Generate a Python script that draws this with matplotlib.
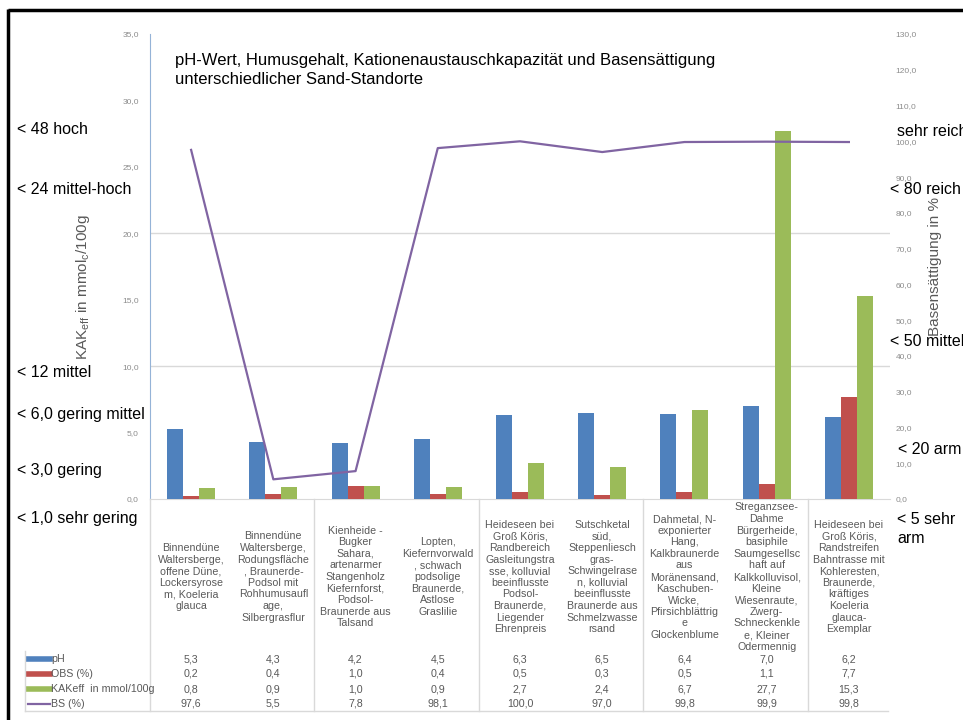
import numpy as np
import matplotlib
matplotlib.use("Agg")
import matplotlib.pyplot as plt
from matplotlib.transforms import blended_transform_factory
from matplotlib.lines import Line2D

plt.rcParams['font.family'] = ['Liberation Sans', 'DejaVu Sans']

categories = [
    "Binnendüne\nWaltersberge,\noffene Düne,\nLockersyrose\nm, Koeleria\nglauca",
    "Binnendüne\nWaltersberge,\nRodungsfläche\n, Braunerde-\nPodsol mit\nRohhumusaufl\nage,\nSilbergrasflur",
    "Kienheide -\nBugker\nSahara,\nartenarmer\nStangenholz\nKiefernforst,\nPodsol-\nBraunerde aus\nTalsand",
    "Lopten,\nKiefernvorwald\n, schwach\npodsolige\nBraunerde,\nAstlose\nGraslilie",
    "Heideseen bei\nGroß Köris,\nRandbereich\nGasleitungstra\nsse, kolluvial\nbeeinflusste\nPodsol-\nBraunerde,\nLiegender\nEhrenpreis",
    "Sutschketal\nsüd,\nSteppenliesch\ngras-\nSchwingelrase\nn, kolluvial\nbeeinflusste\nBraunerde aus\nSchmelzwasse\nrsand",
    "Dahmetal, N-\nexponierter\nHang,\nKalkbraunerde\naus\nMoränensand,\nKaschuben-\nWicke,\nPfirsichblättrig\ne\nGlockenblume",
    "Streganzsee-\nDahme\nBürgerheide,\nbasiphile\nSaumgesellsc\nhaft auf\nKalkkolluvisol,\nKleine\nWiesenraute,\nZwerg-\nSchneckenkle\ne, Kleiner\nOdermennig",
    "Heideseen bei\nGroß Köris,\nRandstreifen\nBahntrasse mit\nKohleresten,\nBraunerde,\nkräftiges\nKoeleria\nglauca-\nExemplar",
]
ph = [5.3, 4.3, 4.2, 4.5, 6.3, 6.5, 6.4, 7.0, 6.2]
obs = [0.2, 0.4, 1.0, 0.4, 0.5, 0.3, 0.5, 1.1, 7.7]
kak = [0.8, 0.9, 1.0, 0.9, 2.7, 2.4, 6.7, 27.7, 15.3]
bs = [97.6, 5.5, 7.8, 98.1, 100.0, 97.0, 99.8, 99.9, 99.8]
series_names = ["pH", "OBS (%)", "KAKeff  in mmol/100g", "BS (%)"]
left_ticks = [0, 5, 10, 15, 20, 25, 30, 35]
right_ticks = [0, 10, 20, 30, 40, 50, 60, 70, 80, 90, 100, 110, 120, 130]
left_notes = ["< 48 hoch", "< 24 mittel-hoch", "< 12 mittel", "< 6,0 gering mittel", "< 3,0 gering", "< 1,0 sehr gering"]
right_notes = ["sehr reich", "< 80 reich", "< 50 mittel", "< 20 arm", "< 5 sehr\narm"]
title = "pH-Wert, Humusgehalt, Kationenaustauschkapazität und Basensättigung\nunterschiedlicher Sand-Standorte"

C_BLUE, C_RED, C_GREEN, C_PURPLE = "#4F81BD", "#C0504D", "#9BBB59", "#8064A2"
GREY_TXT = "#595959"
GRID = "#D9D9D9"

W, H = 963, 720
fig = plt.figure(figsize=(W / 100, H / 100), dpi=100)

def fx(px):
    return px / W

def fy(py):
    return 1 - py / H

ax_l, ax_r, ax_b, ax_t = 150, 890, 499, 34
ax = fig.add_axes([fx(ax_l), fy(ax_b), fx(ax_r - ax_l), (ax_b - ax_t) / H])
ax2 = ax.twinx()

x = np.arange(len(ph))
bw = 0.195
ax.bar(x - bw, ph, bw, color=C_BLUE, zorder=3)
ax.bar(x, obs, bw, color=C_RED, zorder=3)
ax.bar(x + bw, kak, bw, color=C_GREEN, zorder=3)
ax.set_xlim(-0.5, len(ph) - 0.5)
ax.set_ylim(0, 35)
for g in (10, 20):
    ax.axhline(g, color=GRID, lw=1, zorder=1)

def fmt(v):
    return f"{v:.1f}".replace(".", ",")

ax.set_yticks(left_ticks)
ax.set_yticklabels([fmt(v) for v in left_ticks])
ax.tick_params(axis='y', length=0, pad=8, labelsize=6, labelcolor="#8C8C8C")
ax.set_xticks([])
for s in ("top", "right"):
    ax.spines[s].set_visible(False)
ax.spines["left"].set_color("#95B3D7")
ax.spines["bottom"].set_color(GRID)

ax2.plot(x, bs, color=C_PURPLE, lw=1.6, zorder=4)
ax2.set_ylim(0, 130)
ax2.set_yticks(right_ticks)
ax2.set_yticklabels([fmt(v) for v in right_ticks])
ax2.set_yticks([10, 40, 60, 70, 110], minor=True)
ax2.tick_params(axis='y', which='major', length=0, pad=4, labelsize=6, labelcolor="#8C8C8C")
ax2.tick_params(axis='y', which='minor', length=3, direction='in', color=C_BLUE)
for s in ax2.spines.values():
    s.set_visible(False)

ax.set_ylabel("KAK$_{\\mathregular{eff}}$ in mmol$_{\\mathregular{c}}$/100g", fontsize=11, color=GREY_TXT)
ax.yaxis.set_label_coords((92 - ax_l) / (ax_r - ax_l), (ax_b - 287) / (ax_b - ax_t))
ax2.set_ylabel("Basensättigung in %", fontsize=11, color=GREY_TXT)
ax2.yaxis.set_label_coords((928 - ax_l) / (ax_r - ax_l), (ax_b - 267) / (ax_b - ax_t))

# Title
fig.text(fx(175), fy(70), title, fontsize=12, color="black", ha="left", va="center", linespacing=1.38)

# Left notes
for txt, py in zip(left_notes, [130, 190, 372, 415, 470, 518]):
    fig.text(fx(17), fy(py), txt, fontsize=11.5, color="black", ha="left", va="center")
# Right notes (partly cut by the right edge, as in the source image)
for txt, px, py in zip(right_notes, [897, 890, 890, 898, 897], [132, 190, 342, 450, 529]):
    fig.text(fx(px), fy(py), txt, fontsize=11.5, color="black", ha="left", va="center", linespacing=1.3)

# Data table below axis
tr = blended_transform_factory(ax.transData, fig.transFigure)
for i, lab in enumerate(categories):
    fig.text(i, fy(577), lab, transform=tr, ha="center", va="center", fontsize=7.7,
             color=GREY_TXT, linespacing=1.2)

rows_y = [659, 674, 689, 704]
for vals, py in zip([ph, obs, kak, bs], rows_y):
    for i, v in enumerate(vals):
        fig.text(i, fy(py), fmt(v), transform=tr, ha="center", va="center", fontsize=7.7, color=GREY_TXT)

key_colors = [C_BLUE, C_RED, C_GREEN, C_PURPLE]
key_lw = [4, 4, 4, 1.6]
for name, col, lw, py in zip(series_names, key_colors, key_lw, rows_y):
    fig.add_artist(Line2D([fx(28), fx(50)], [fy(py), fy(py)], color=col, lw=lw))
    fig.text(fx(51), fy(py), name, ha="left", va="center", fontsize=7.7, color=GREY_TXT)

# Table lines
for xb in [-0.5, 1.5, 3.5, 5.5, 7.5]:
    fig.add_artist(Line2D([xb, xb], [fy(499), fy(711)], transform=tr, color=GRID, lw=1))
fig.add_artist(Line2D([fx(25), fx(888)], [fy(711), fy(711)], color=GRID, lw=1))
fig.add_artist(Line2D([fx(25), fx(25)], [fy(651), fy(711)], color=GRID, lw=1))

# Outer black frame
fig.add_artist(Line2D([fx(8), fx(970)], [fy(10), fy(10)], color="black", lw=2.5, solid_capstyle="butt"))
fig.add_artist(Line2D([fx(8), fx(8)], [fy(9), fy(730)], color="black", lw=2.5, solid_capstyle="butt"))

fig.savefig("out.png", dpi=100)
